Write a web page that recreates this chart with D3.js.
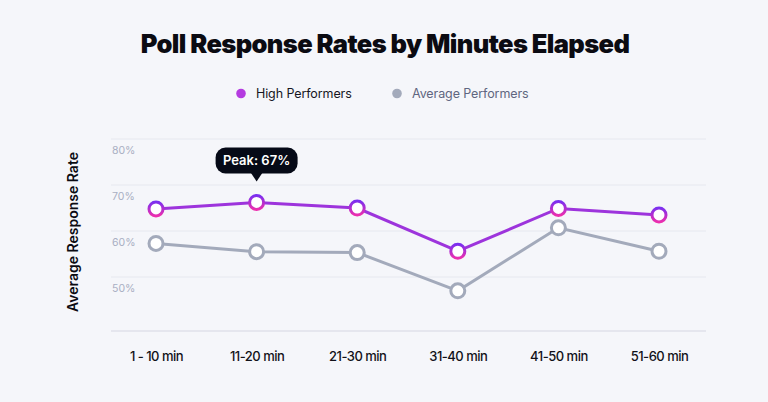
<!DOCTYPE html>
<html>
<head>
<meta charset="utf-8">
<script src="https://cdn.jsdelivr.net/npm/d3@7"></script>
<style>
  html, body { margin: 0; padding: 0; background: #f5f6fa; }
  svg { display: block; }
  text { font-family: Inter, "Noto Sans", sans-serif; }
</style>
</head>
<body>
<svg id="chart" width="768" height="402"></svg>
<script>
const categories = ["1 - 10 min", "11-20 min", "21-30 min", "31-40 min", "41-50 min", "51-60 min"];
const highPerformers = [64.8, 66.2, 65.0, 55.6, 64.9, 63.5];
const averagePerformers = [57.3, 55.5, 55.3, 47.0, 60.7, 55.6];
const yTicks = [50, 60, 70, 80];
const seriesNames = ["High Performers", "Average Performers"];
const peakLabel = "Peak: 67%";
const peakIndex = 1;

const W = 768, H = 402;
const svg = d3.select("#chart");
svg.append("rect").attr("width", W).attr("height", H).attr("fill", "#f5f6fa");

const defs = svg.append("defs");
const grad = defs.append("linearGradient").attr("id", "mk").attr("x1", 0).attr("y1", 0).attr("x2", 0).attr("y2", 1);
grad.append("stop").attr("offset", "0%").attr("stop-color", "#7b2ff0");
grad.append("stop").attr("offset", "100%").attr("stop-color", "#ec2fae");

const plotLeft = 111, plotRight = 706, plotBottom = 331;
const x = d3.scalePoint().domain(categories).range([156, 659]);
const y = d3.scaleLinear().domain([50, 80]).range([277, 139]);

// Title
svg.append("text").attr("x", 385).attr("y", 53).attr("text-anchor", "middle")
  .attr("font-size", 25.5).attr("font-weight", 900).attr("fill", "#0b0b12")
  .attr("letter-spacing", "-0.6")
  .text("Poll Response Rates by Minutes Elapsed");

// Legend
const legend = [
  { name: seriesNames[0], color: "#b43be0", tx: "#16161f", cx: 241 },
  { name: seriesNames[1], color: "#a3aabb", tx: "#5f6680", cx: 397 }
];
legend.forEach(l => {
  svg.append("circle").attr("cx", l.cx).attr("cy", 93.5).attr("r", 4.8).attr("fill", l.color);
  svg.append("text").attr("x", l.cx + 15).attr("y", 98).attr("font-size", 12.5)
    .attr("letter-spacing", "-0.1")
    .attr("fill", l.tx).text(l.name);
});

// Gridlines
const grid = svg.append("g");
yTicks.forEach(t => {
  grid.append("line").attr("x1", plotLeft).attr("x2", plotRight)
    .attr("y1", y(t)).attr("y2", y(t)).attr("stroke", "#e6e8ef").attr("stroke-width", 1);
  grid.append("text").attr("x", plotLeft + 1).attr("y", y(t) + 15)
    .attr("font-size", 10.5).attr("fill", "#a9afc3").text(t + "%");
});
// x axis baseline
const xAxis = d3.axisBottom(x).tickSize(0).tickPadding(21);
const xg = svg.append("g").attr("transform", `translate(0,${plotBottom})`).call(xAxis);
xg.select(".domain").remove();
xg.append("line").attr("x1", plotLeft).attr("x2", plotRight).attr("y1", 0).attr("y2", 0)
  .attr("stroke", "#dfe1ea").attr("stroke-width", 1.5);
xg.selectAll(".tick text").attr("font-size", 13).attr("font-weight", 500)
  .attr("letter-spacing", "-0.5")
  .attr("fill", "#111118").attr("font-family", "Inter, sans-serif");

// Y axis title
svg.append("text").attr("transform", "translate(78,232) rotate(-90)")
  .attr("text-anchor", "middle").attr("font-size", 14).attr("font-weight", 600)
  .attr("fill", "#0b0b12").text("Average Response Rate");

// Lines
const line = d3.line().x((d, i) => x(categories[i])).y(d => y(d));
svg.append("path").datum(averagePerformers).attr("d", line).attr("fill", "none")
  .attr("stroke", "#a3aabb").attr("stroke-width", 3);
svg.append("path").datum(highPerformers).attr("d", line).attr("fill", "none")
  .attr("stroke", "#9d34dc").attr("stroke-width", 3);

svg.append("g").selectAll("circle").data(averagePerformers).join("circle")
  .attr("cx", (d, i) => x(categories[i])).attr("cy", d => y(d)).attr("r", 7)
  .attr("fill", "#fff").attr("stroke", "#a3aabb").attr("stroke-width", 3);
svg.append("g").selectAll("circle").data(highPerformers).join("circle")
  .attr("cx", (d, i) => x(categories[i])).attr("cy", d => y(d)).attr("r", 7)
  .attr("fill", "#fff").attr("stroke", "url(#mk)").attr("stroke-width", 3);

// Peak tooltip
const px = x(categories[peakIndex]), py = y(highPerformers[peakIndex]);
const tip = svg.append("g").attr("transform", `translate(${px},${py - 21})`);
tip.append("rect").attr("x", -41).attr("y", -34).attr("width", 82).attr("height", 26)
  .attr("rx", 10).attr("fill", "#060a17");
tip.append("path").attr("d", "M-6,-9 L0,0 L6,-9 Z").attr("fill", "#060a17");
tip.append("text").attr("x", 0).attr("y", -16.5).attr("text-anchor", "middle")
  .attr("font-size", 13).attr("font-weight", 600).attr("fill", "#fff").text(peakLabel);
</script>
</body>
</html>
